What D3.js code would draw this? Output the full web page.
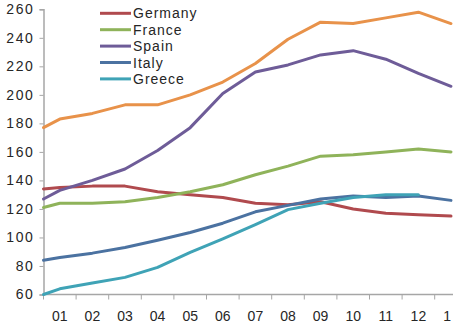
<!DOCTYPE html>
<html>
<head>
<meta charset="utf-8">
<script src="https://cdn.jsdelivr.net/npm/d3@7"></script>
<style>
  body { margin: 0; background: #fff; }
  svg { display: block; overflow: hidden; }
  text { font-family: "Liberation Sans", Arial, sans-serif; fill: #262626; }
</style>
</head>
<body>
<div id="chart"></div>
<script>
// periods: "00" sits on the value axis, the rest at category centres
var periods = ['00', '01', '02', '03', '04', '05', '06', '07', '08', '09', '10', '11', '12', '13'];
var categories = periods.slice(1);
var yTicks = [60, 80, 100, 120, 140, 160, 180, 200, 220, 240, 260];

var germany = [134, 135, 136, 136, 132, 130, 128, 124, 123, 125, 120, 117, 116, 115];
var france  = [121, 124, 124, 125, 128, 132, 137, 144, 150, 157, 158, 160, 162, 160];
var spain   = [127, 133, 140, 148, 161, 177, 201, 216, 221, 228, 231, 225, 215, 206];
var italy   = [84, 86, 89, 93, 98, 103.5, 110, 118, 122.5, 127, 129, 128, 129, 126];
var greece  = [60, 64, 68, 72, 79, 89.5, 99, 109, 119.5, 124, 128, 130, 130];
var other   = [177, 183, 187, 193, 193, 200, 209, 222, 239, 251, 250, 254, 258, 250];

var series = [
    {name: 'Germany', values: germany, color: '#b04a4e', legend: true},
    {name: 'France', values: france, color: '#8fb35a', legend: true},
    {name: 'Spain', values: spain, color: '#6e5c98', legend: true},
    {name: 'Italy', values: italy, color: '#4b72a1', legend: true},
    {name: 'Greece', values: greece, color: '#3fa3b6', legend: true},
    {name: '', values: other, color: '#e8924a', legend: false}
];

var width = 453, height = 327;
var marginLeft = 43.5, marginTop = 9.3, axisY = 294.5, step = 32.6;

var svg = d3.select('#chart').append('svg')
    .attr('width', width)
    .attr('height', height);

svg.append('clipPath').attr('id', 'labelClip')
    .append('rect')
    .attr('x', 0).attr('y', -10)
    .attr('width', 451).attr('height', 50);

var x = d3.scaleBand()
    .domain(categories)
    .range([marginLeft, marginLeft + step * categories.length]);

var y = d3.scaleLinear()
    .domain([60, 260])
    .range([axisY, marginTop]);

function xPos(d, i) {
    if (i === 0) return x.range()[0];
    return x(periods[i]) + x.bandwidth() / 2;
}

// y axis
var yAxisG = svg.append('g')
    .attr('transform', 'translate(' + marginLeft + ',0)')
    .call(d3.axisLeft(y).tickValues(yTicks).tickSize(4).tickPadding(5));
yAxisG.select('.domain').attr('stroke', '#a6a6a6').attr('stroke-width', 1.5);
yAxisG.selectAll('.tick line').attr('stroke', '#a6a6a6');
yAxisG.selectAll('.tick text')
    .attr('fill', '#262626')
    .style('font-size', '14px')
    .style('letter-spacing', '1.6px');

// x axis: ticks on category boundaries, labels in the middle
var xAxisG = svg.append('g')
    .attr('transform', 'translate(0,' + axisY + ')');
xAxisG.append('line')
    .attr('x1', marginLeft).attr('x2', width)
    .attr('stroke', '#a6a6a6').attr('stroke-width', 1.5);
xAxisG.selectAll('.xtick')
    .data(categories)
    .enter().append('line')
    .attr('class', 'xtick')
    .attr('x1', function(d) { return x(d); })
    .attr('x2', function(d) { return x(d); })
    .attr('y1', 0).attr('y2', 5)
    .attr('stroke', '#a6a6a6');
xAxisG.append('g')
    .attr('clip-path', 'url(#labelClip)')
    .selectAll('.xlabel')
    .data(categories)
    .enter().append('text')
    .attr('class', 'xlabel')
    .attr('x', function(d) { return x(d) + x.bandwidth() / 2; })
    .attr('y', 26)
    .attr('text-anchor', 'middle')
    .style('font-size', '14px')
    .text(function(d) { return d; });

// lines
var line = d3.line()
    .x(function(d, i) { return xPos(d, i); })
    .y(function(d) { return y(d); });

svg.append('g').selectAll('path')
    .data(series)
    .enter().append('path')
    .attr('d', function(s) { return line(s.values); })
    .attr('fill', 'none')
    .attr('stroke', function(s) { return s.color; })
    .attr('stroke-width', 3)
    .attr('stroke-linejoin', 'round')
    .attr('stroke-linecap', 'round');

// legend
var legend = svg.append('g')
    .attr('transform', 'translate(100,13.3)');
var rows = legend.selectAll('g')
    .data(series.filter(function(s) { return s.legend; }))
    .enter().append('g')
    .attr('transform', function(s, i) { return 'translate(0,' + i * 16.4 + ')'; });
rows.append('line')
    .attr('x1', 0).attr('x2', 31)
    .attr('stroke', function(s) { return s.color; })
    .attr('stroke-width', 3);
rows.append('text')
    .attr('x', 33)
    .attr('y', 5)
    .style('font-size', '14px')
    .style('letter-spacing', '1px')
    .text(function(s) { return s.name; });
</script>
</body>
</html>
